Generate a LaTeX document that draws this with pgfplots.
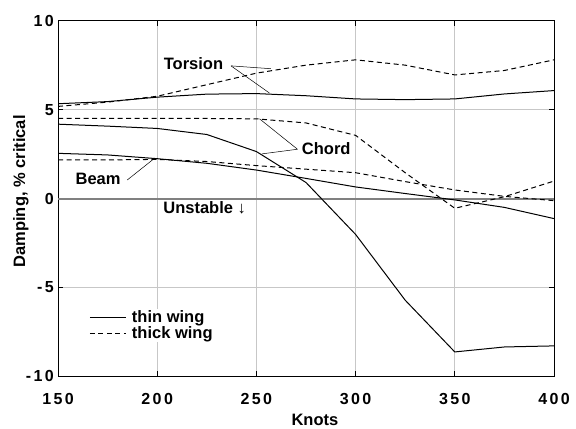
\documentclass[border=0pt]{standalone}
\usepackage{fontspec}
\setmainfont{Liberation Sans}
\usepackage{pgfplots}
\usepackage{pgfplotstable}
\pgfplotsset{compat=1.18}

% damping (% critical) against speed (knots)
\pgfplotstableread{
x   thintor thicktor thinchord thickchord thinbeam thickbeam
150 5.33 5.18  4.18  4.50  2.54  2.17
175 5.45 5.42  4.07  4.50  2.45  2.17
200 5.70 5.75  3.94  4.50  2.24  2.20
225 5.87 6.40  3.60  4.50  1.98  2.08
250 5.90 7.05  2.64  4.48  1.60  1.85
275 5.78 7.50  0.90  4.25  1.13  1.65
300 5.60 7.80 -2.02  3.55  0.65  1.45
325 5.56 7.50 -5.72  1.45  0.28  0.95
350 5.60 6.95 -8.63 -0.55 -0.08  0.48
375 5.88 7.20 -8.35  0.10 -0.50  0.12
400 6.07 7.80 -8.29  0.98 -1.13 -0.12
}\damping

\newcommand\lab{\fontsize{16.5bp}{18bp}\selectfont\bfseries}
\newcommand\tik{\fontsize{16bp}{18bp}\selectfont\bfseries\addfontfeature{LetterSpace=15}}

\begin{document}
\begin{tikzpicture}
\useasboundingbox (-58bp,-52.7bp) rectangle (518bp,376.3bp);
\begin{axis}[
  at={(0,0)}, anchor=south west,
  scale only axis,
  width=496bp, height=355.6bp,
  xmin=150, xmax=400,
  ymin=-10, ymax=10,
  xtick={150,200,250,300,350,400},
  xticklabels={150,200,250,300,350,400},
  ytick={-10,-5,0,5,10},
  yticklabels={-10,-5,0,5,10},
  grid=major,
  major grid style={black!22, line width=0.9bp},
  tick align=inside,
  major tick length=5bp,
  tick style={black, line width=0.9bp},
  axis line style={line width=1bp},
  ticklabel style={font=\tik},
  xticklabel style={anchor=base, yshift=-27.7bp},
  yticklabel style={anchor=east, inner sep=0pt, xshift=-4bp},
  xlabel={Knots},
  ylabel={Damping, \% critical},
  label style={font=\lab},
  xlabel style={at={(axis description cs:0.518,0)}, anchor=center, yshift=-44bp},
  ylabel style={at={(axis description cs:-0.0746,0.52)}, anchor=center},
  legend style={
    at={(rel axis cs:0.06,0.19)}, anchor=north west,
    draw=none, fill=white, font=\lab,
    row sep=1.5bp, column sep=5bp, inner sep=1.5bp,
    nodes={inner sep=0.5bp},
  },
  legend cell align=left,
  legend image code/.code={\draw[#1] (0bp,0bp) -- (36bp,0bp);},
  every axis plot/.append style={line width=1bp, black},
  thick wing/.style={dash pattern=on 5bp off 3.5bp},
]
\addplot[black!50, line width=2bp, forget plot] coordinates {(150,0) (400,0)};

\addplot[forget plot] table[x=x, y=thintor] {\damping};
\addplot[forget plot, thick wing] table[x=x, y=thicktor] {\damping};
\addplot[forget plot] table[x=x, y=thinchord] {\damping};
\addplot[forget plot, thick wing] table[x=x, y=thickchord] {\damping};
\addplot[forget plot] table[x=x, y=thinbeam] {\damping};
\addplot[forget plot, thick wing] table[x=x, y=thickbeam] {\damping};

\addlegendimage{black, line width=1bp}
\addlegendentry{thin wing}
\addlegendimage{black, line width=1bp, thick wing}
\addlegendentry{thick wing}

% labels with pointer lines
\draw[line width=0.5bp] (axis cs:237.2,7.46) -- (axis cs:257.3,7.30);
\draw[line width=0.5bp] (axis cs:237.2,7.46) -- (axis cs:256.6,5.93);
\node[font=\lab] at (axis cs:218.3,7.58) {Torsion};

\draw[line width=0.5bp] (axis cs:270.7,2.77) -- (axis cs:251.6,4.48);
\draw[line width=0.5bp] (axis cs:270.7,2.77) -- (axis cs:252.8,2.51);
\node[font=\lab] at (axis cs:285.2,2.79) {Chord};

\draw[line width=0.5bp] (axis cs:184.9,1.04) -- (axis cs:198.3,2.23);
\node[font=\lab] at (axis cs:170.2,1.10) {Beam};

\node[font=\lab, anchor=west, inner sep=0pt] at (axis cs:203,-0.54) {Unstable ↓};
\end{axis}
\end{tikzpicture}
\end{document}
